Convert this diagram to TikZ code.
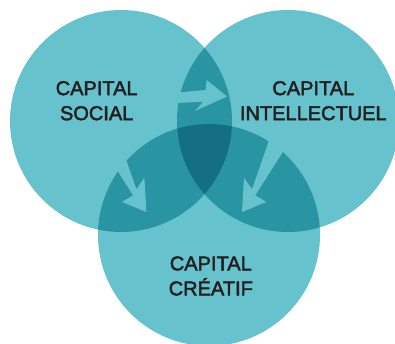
\documentclass[tikz,border=0pt]{standalone}
\usepackage{fontspec}
\newfontfamily\capfont[FakeBold=2.2]{Liberation Sans}
\usetikzlibrary{positioning}

\definecolor{capLight}{RGB}{102,194,204}
\definecolor{capMid}{RGB}{41,149,163}
\definecolor{capDark}{RGB}{19,111,129}
\definecolor{capText}{RGB}{35,31,32}

\begin{document}
\begin{tikzpicture}[x=1pt,y=-1pt,
        cercle/.style={circle,fill=capLight,minimum size=222pt,inner sep=0pt},
        etiquette/.style={font=\capfont\fontsize{20}{25}\selectfont,text=capText,align=center,inner sep=0pt},
        fleche/.style={fill=capLight}]
    \useasboundingbox (0,0) rectangle (395,344);
    % les trois cercles
    \node[cercle] (social) at (121,121) {};
    \node[cercle] (intel) at (288,121) {};
    \node[cercle] (creatif) at (209,235) {};
    % zones communes a deux cercles
    \begin{scope}
        \clip (social.center) circle (111pt);
        \fill[capMid] (intel.center) circle (111pt);
        \fill[capMid] (creatif.center) circle (111pt);
    \end{scope}
    \begin{scope}
        \clip (intel.center) circle (111pt);
        \fill[capMid] (creatif.center) circle (111pt);
    \end{scope}
    % zone commune aux trois
    \begin{scope}
        \clip (social.center) circle (111pt);
        \clip (intel.center) circle (111pt);
        \fill[capDark] (creatif.center) circle (111pt);
    \end{scope}
    % fleches
    \fill[fleche] (172,93) -- (205.5,90) -- (206.7,80) -- (227,96.5) -- (195,111)
        -- (203.3,101.7) -- (172,103.3) -- cycle;
    \fill[fleche] (118.4,137.7) -- (120.4,143.3) -- (136.4,189.3) -- (144.4,177.7)
        -- (146.4,212) -- (122.1,202) -- (133.1,195.3) -- (107.1,154.3) -- (103.9,149.3) -- cycle;
    \fill[fleche] (270,137.7) -- (268,143.3) -- (252,189.3) -- (244,177.7)
        -- (242,212) -- (266.3,202) -- (255.3,195.3) -- (281.3,154.3) -- (284.5,149.3) -- cycle;
    % textes
    \node[etiquette] (lsocial) at (96.7,100.75) {CAPITAL\\SOCIAL};
    \node[etiquette] (lintel) at (313.3,100.75) {CAPITAL\\INTELLECTUEL};
    \node[etiquette] (lcreatif) at (210.8,276) {CAPITAL\\CRÉATIF};
\end{tikzpicture}
\end{document}
